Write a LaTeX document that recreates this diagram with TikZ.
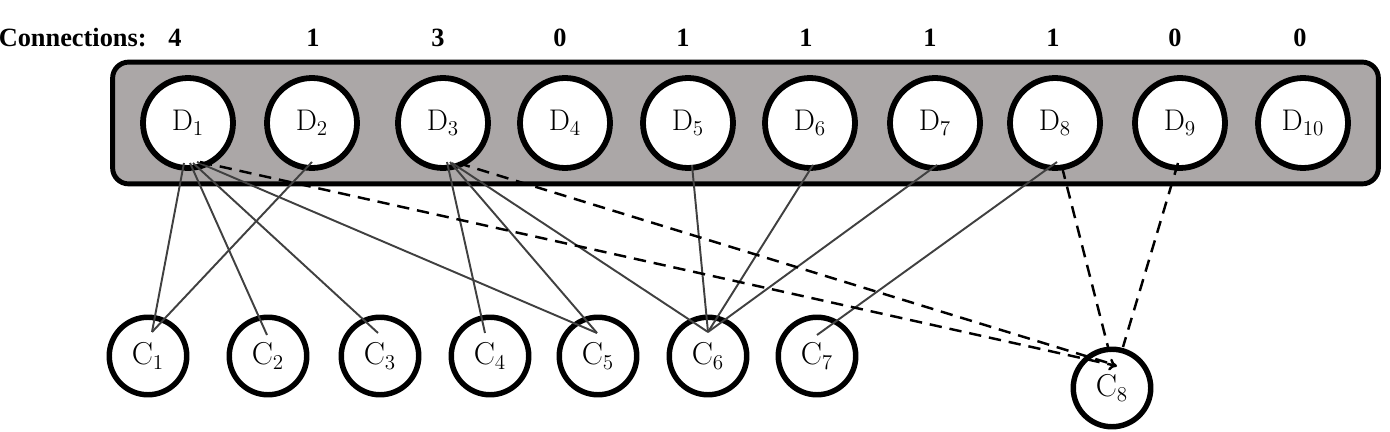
\documentclass[tikz,border=0pt]{standalone}
\usepackage{xcolor}
\usepackage{fontspec}
\usepackage{tikz}
\usetikzlibrary{arrows.meta, positioning, fit, backgrounds, calc}
\newfontfamily\headfont{Liberation Serif}
\definecolor{panelgray}{RGB}{171,167,167}
\definecolor{linkgray}{RGB}{64,64,64}
\tikzset{
  dnode/.style={circle, draw=black, line width=3.3pt, fill=white, minimum size=1.8cm, inner sep=0pt, font=\fontsize{17}{20}\selectfont},
  cnode/.style={circle, draw=black, line width=3.1pt, fill=white, minimum size=1.55cm, inner sep=0pt, font=\fontsize{18}{21}\selectfont},
  panel/.style={draw=black, line width=2.8pt, fill=panelgray, rounded corners=0.32cm, inner xsep=0.55cm, inner ysep=0.26cm},
  count/.style={font=\headfont\bfseries\fontsize{15}{18}\selectfont, inner sep=0pt},
  link/.style={draw=linkgray, line width=1.1pt},
  spare/.style={draw=black, line width=1.4pt, dash pattern=on 7pt off 4.5pt},
}

\begin{document}
\begin{tikzpicture}[x=0.02cm, y=-0.02cm]
\useasboundingbox (0,0) rectangle (1390,432);

% data nodes
\node[dnode] (D1) at (188,123) {$\mathrm{D}_{1}$};
\node[dnode] (D2) at (312,123) {$\mathrm{D}_{2}$};
\node[dnode] (D3) at (443,123) {$\mathrm{D}_{3}$};
\node[dnode] (D4) at (565,123) {$\mathrm{D}_{4}$};
\node[dnode] (D5) at (688,123) {$\mathrm{D}_{5}$};
\node[dnode] (D6) at (810,123) {$\mathrm{D}_{6}$};
\node[dnode] (D7) at (935,123) {$\mathrm{D}_{7}$};
\node[dnode] (D8) at (1055,123) {$\mathrm{D}_{8}$};
\node[dnode] (D9) at (1180,123) {$\mathrm{D}_{9}$};
\node[dnode] (D10) at (1303,123) {$\mathrm{D}_{10}$};

\begin{scope}[on background layer]
  \node[panel, fit=(D1)(D10)] (pool) {};
\end{scope}

% connection counts
\node[count, anchor=east] (head) at (147,38) {Connections:};
\node[count] (n1) at (175,38) {4};
\node[count] (n2) at (313,38) {1};
\node[count] (n3) at (438,38) {3};
\node[count] (n4) at (560,38) {0};
\node[count] (n5) at (683,38) {1};
\node[count] (n6) at (806,38) {1};
\node[count] (n7) at (930,38) {1};
\node[count] (n8) at (1053,38) {1};
\node[count] (n9) at (1175,38) {0};
\node[count] (n10) at (1300,38) {0};

% consumer nodes
\node[cnode] (C1) at (148,356) {$\mathrm{C}_{1}$};
\node[cnode] (C2) at (268,356) {$\mathrm{C}_{2}$};
\node[cnode] (C3) at (380,356) {$\mathrm{C}_{3}$};
\node[cnode] (C4) at (490,356) {$\mathrm{C}_{4}$};
\node[cnode] (C5) at (598,356) {$\mathrm{C}_{5}$};
\node[cnode] (C6) at (708,356) {$\mathrm{C}_{6}$};
\node[cnode] (C7) at (817,356) {$\mathrm{C}_{7}$};
\node[cnode] (C8) at (1112,388) {$\mathrm{C}_{8}$};

% solid links
\draw[link] ($(D1)+(-4,40)$) -- ($(C1)+(4,-24)$);
\draw[link] ($(D1)+(2,40)$) -- ($(C2)+(-1,-21)$);
\draw[link] ($(D1)+(5,40)$) -- ($(C3)+(-2,-23)$);
\draw[link] ($(D1)+(9,39)$) -- ($(C5)+(-1,-23)$);
\draw[link] ($(D2)+(0,39)$) -- ($(C1)+(4,-24)$);
\draw[link] ($(D3)+(4,39)$) -- ($(C4)+(-5,-23)$);
\draw[link] ($(D3)+(7,39)$) -- ($(C5)+(-1,-23)$);
\draw[link] ($(D3)+(9,40)$) -- ($(C6)+(0,-24)$);
\draw[link] ($(D5)+(4,42)$) -- ($(C6)+(0,-24)$);
\draw[link] ($(D6)+(3,42)$) -- ($(C6)+(0,-24)$);
\draw[link] ($(D7)+(2,42)$) -- ($(C6)+(0,-24)$);
\draw[link] ($(D8)+(2,39)$) -- ($(C7)+(0,-21)$);

% dashed links
\draw[spare, -{To[length=1.6mm, width=2.4mm]}] ($(D1)+(12,39)$) -- ($(C8)+(5,-22)$);
\draw[spare] ($(D3)+(15,40)$) -- ($(C8)+(3,-23)$);
\draw[spare] ($(D8)+(7,44)$) -- ($(C8)+(-4,-41)$);
\draw[spare] ($(D9)+(-2,40)$) -- ($(C8)+(11,-41)$);
\end{tikzpicture}
\end{document}
